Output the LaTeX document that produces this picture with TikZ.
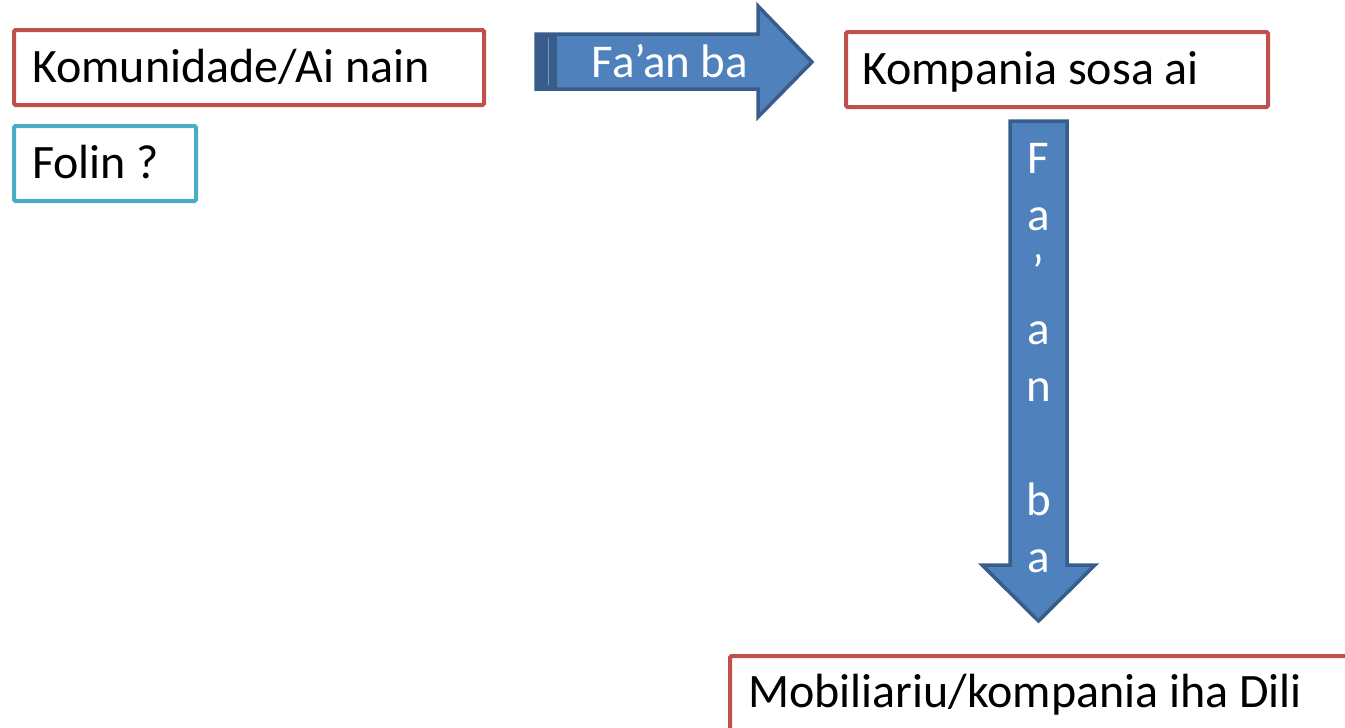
\documentclass[tikz,border=0pt]{standalone}
\usepackage{fontspec}
\setmainfont{Carlito}
\definecolor{boxred}{HTML}{C0504D}
\definecolor{boxblue}{HTML}{4BACC6}
\definecolor{arrfill}{HTML}{4F81BD}
\definecolor{arrline}{HTML}{385D8A}
\begin{document}
\begin{tikzpicture}[x=1pt,y=-1pt,
  framebox/.style={draw=#1, line width=4pt, rounded corners=1.5pt, fill=white, minimum height=75pt, anchor=north west, inner sep=0pt},
  label/.style={anchor=base west, inner sep=0pt, font=\fontsize{48}{56}\selectfont},
  blockarrow/.style={draw=arrline, fill=arrfill, line width=3.5pt, line join=miter},
  arrowtext/.style={inner sep=0pt, text=white, font=\fontsize{47}{57}\selectfont}]
\useasboundingbox (0,0) rectangle (1345,728);
\clip (0,0) rectangle (1345,728);
% boxes
\node[framebox=boxred, minimum width=470pt] (b1) at (12,28) {};
\node[framebox=boxblue, minimum width=182pt] (b2) at (12,124) {};
\node[framebox=boxred, minimum width=422pt] (b3) at (844,30) {};
\node[framebox=boxred, minimum width=700pt, minimum height=120pt] (b4) at (728,654) {};
% labels
\node[label] (t1) at (32,82) {Komunidade/Ai nain};
\node[label] (t2) at (32,178) {Folin ?};
\node[label] (t3) at (862,84) {Kompania sosa ai};
\node[label] (t4) at (748,707) {Mobiliariu/kompania iha Dili};
% right block arrow
\draw[blockarrow] (536,34) -- (758,34) -- (758,6) -- (812,62) -- (758,117) -- (758,89) -- (536,89) -- cycle;
\fill[arrline] (537.5,35.5) rectangle (557,87.5);
\draw[arrfill!80!white, line width=0.8pt] (548,38) -- (548,85);
\node[arrowtext, anchor=base] (a1) at (670,77) {Fa’an ba};
% down block arrow
\draw[blockarrow] (1010,121) -- (1067,121) -- (1067,565) -- (1095,565) -- (1038.5,621) -- (982,565) -- (1010,565) -- cycle;
\foreach \ch [count=\i from 0] in {F,a,’,a,n,{},b,a}{
  \node[arrowtext, anchor=base] (v\i) at (1038.5,{173+57*\i}) {\ch};
}
\end{tikzpicture}
\end{document}
